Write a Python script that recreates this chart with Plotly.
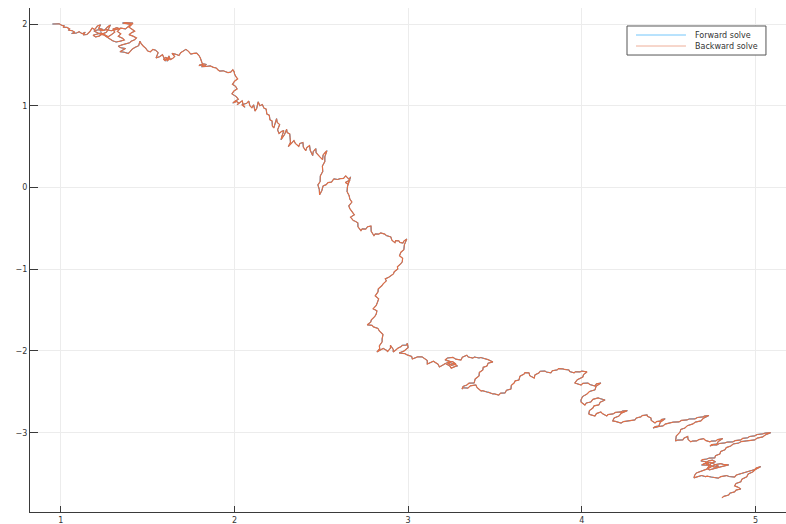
import plotly.graph_objects as go

# Solution path of the 2-D SDE (u1, u2), listed piece by piece along the trajectory
path_head = [
    (0.951, 2.000), (0.975, 1.998), (0.990, 2.003), (1.004, 1.985), (1.020, 1.978), (1.012, 1.962),
    (1.035, 1.958), (1.050, 1.940), (1.043, 1.925), (1.066, 1.918), (1.080, 1.898), (1.062, 1.884),
    (1.090, 1.890), (1.105, 1.905), (1.122, 1.882), (1.140, 1.900), (1.128, 1.868), (1.150, 1.872),
    (1.166, 1.905), (1.180, 1.950), (1.195, 1.932), (1.210, 1.975), (1.228, 1.990), (1.218, 1.948),
    (1.240, 1.935), (1.225, 1.915), (1.252, 1.925), (1.268, 1.965), (1.285, 1.988), (1.275, 1.945),
    (1.262, 1.898), (1.240, 1.880), (1.220, 1.852), (1.200, 1.842), (1.185, 1.862), (1.205, 1.875),
    (1.232, 1.892), (1.250, 1.870), (1.272, 1.845), (1.290, 1.868), (1.310, 1.900), (1.300, 1.938),
    (1.322, 1.955), (1.340, 1.940), (1.325, 1.910), (1.345, 1.880), (1.330, 1.850), (1.355, 1.825),
    (1.365, 1.805), (1.342, 1.790), (1.318, 1.780), (1.298, 1.795), (1.278, 1.820), (1.260, 1.850),
    (1.245, 1.868), (1.225, 1.878), (1.205, 1.895), (1.190, 1.915), (1.215, 1.930), (1.238, 1.922),
    (1.262, 1.932), (1.290, 1.918), (1.315, 1.932), (1.345, 1.950), (1.372, 1.940), (1.390, 1.975),
    (1.402, 1.995), (1.378, 2.005), (1.355, 2.012), (1.372, 2.018), (1.398, 2.015), (1.415, 2.012),
    (1.405, 1.988), (1.392, 1.962), (1.410, 1.935), (1.425, 1.912), (1.408, 1.895), (1.392, 1.870),
    (1.415, 1.852), (1.435, 1.830), (1.425, 1.808), (1.405, 1.790), (1.395, 1.770), (1.372, 1.760),
    (1.352, 1.745), (1.330, 1.728), (1.345, 1.710), (1.372, 1.700), (1.355, 1.680), (1.340, 1.662),
    (1.365, 1.655), (1.388, 1.640), (1.398, 1.662), (1.412, 1.695), (1.428, 1.715), (1.448, 1.735),
    (1.455, 1.790), (1.462, 1.760), (1.475, 1.728), (1.488, 1.705), (1.500, 1.670), (1.515, 1.660),
    (1.530, 1.690), (1.545, 1.680), (1.560, 1.650), (1.552, 1.612), (1.548, 1.585), (1.568, 1.600),
    (1.585, 1.625), (1.595, 1.580), (1.602, 1.548), (1.590, 1.570), (1.615, 1.560), (1.600, 1.592),
    (1.625, 1.575), (1.612, 1.545), (1.622, 1.610), (1.630, 1.565),
    (1.645, 1.580), (1.655, 1.602), (1.640, 1.640), (1.662, 1.630), (1.680, 1.615), (1.690, 1.650),
    (1.705, 1.672), (1.720, 1.690), (1.735, 1.665), (1.748, 1.632), (1.765, 1.640), (1.782, 1.645),
    (1.795, 1.615), (1.803, 1.585), (1.812, 1.530), (1.818, 1.498), (1.800, 1.500), (1.795, 1.490),
    (1.822, 1.512), (1.838, 1.505), (1.825, 1.485), (1.810, 1.478), (1.835, 1.480), (1.860, 1.488),
    (1.878, 1.470), (1.895, 1.462), (1.905, 1.438), (1.915, 1.425), (1.935, 1.428), (1.950, 1.418),
    (1.962, 1.405), (1.978, 1.412), (1.990, 1.440), (1.998, 1.415), (2.000, 1.388),
]

path_descent = [
    (2.008, 1.355), (2.018, 1.330), (2.000, 1.300), (1.988, 1.262), (2.006, 1.238), (2.015, 1.205),
    (1.996, 1.180), (1.985, 1.145), (2.010, 1.112), (2.022, 1.078), (2.004, 1.058), (1.990, 1.035),
    (2.012, 1.052), (2.026, 1.030), (2.014, 1.012), (2.034, 1.040), (2.044, 1.060), (2.050, 1.008),
    (2.060, 0.982), (2.042, 1.012), (2.070, 1.030), (2.082, 1.058), (2.088, 1.002), (2.100, 0.975),
    (2.110, 1.012), (2.118, 0.935), (2.128, 0.970), (2.136, 1.048), (2.146, 1.000), (2.160, 1.015),
    (2.170, 0.968), (2.182, 0.960), (2.186, 0.898), (2.200, 0.885), (2.204, 0.828), (2.216, 0.815),
    (2.218, 0.752), (2.226, 0.728), (2.234, 0.800), (2.242, 0.842), (2.246, 0.795), (2.260, 0.770),
    (2.248, 0.705), (2.256, 0.660), (2.272, 0.688), (2.284, 0.695), (2.272, 0.622), (2.268, 0.585),
    (2.288, 0.648), (2.300, 0.712), (2.303, 0.672), (2.318, 0.655), (2.320, 0.610), (2.322, 0.552),
    (2.310, 0.500), (2.328, 0.545), (2.342, 0.575), (2.350, 0.540), (2.370, 0.502), (2.376, 0.538),
    (2.394, 0.550), (2.396, 0.495), (2.410, 0.450), (2.416, 0.488), (2.432, 0.512), (2.436, 0.455),
    (2.450, 0.390), (2.453, 0.438), (2.468, 0.475), (2.470, 0.425), (2.483, 0.388), (2.490, 0.378),
    (2.507, 0.340), (2.510, 0.398), (2.522, 0.428), (2.532, 0.450), (2.520, 0.376), (2.520, 0.318),
    (2.506, 0.262), (2.508, 0.196), (2.494, 0.142), (2.493, 0.072), (2.480, 0.032), (2.488, -0.022),
    (2.490, -0.090), (2.503, -0.036), (2.510, 0.020), (2.528, 0.035), (2.538, 0.060), (2.558, 0.066),
    (2.572, 0.106), (2.594, 0.098), (2.608, 0.108), (2.628, 0.112), (2.640, 0.142), (2.658, 0.104),
    (2.664, 0.090), (2.638, 0.062), (2.655, 0.040), (2.668, 0.130), (2.657, 0.070), (2.650, 0.005),
    (2.648, -0.050), (2.660, -0.100), (2.664, -0.142), (2.676, -0.178), (2.658, -0.225), (2.664, -0.258),
    (2.674, -0.288), (2.690, -0.335), (2.668, -0.362), (2.684, -0.405), (2.692, -0.410), (2.710, -0.432),
    (2.711, -0.482), (2.728, -0.528), (2.735, -0.505), (2.756, -0.508), (2.766, -0.480), (2.786, -0.472),
    (2.787, -0.535), (2.803, -0.590), (2.810, -0.568), (2.830, -0.570), (2.842, -0.556), (2.865, -0.570),
    (2.874, -0.588), (2.900, -0.604), (2.906, -0.645), (2.924, -0.676), (2.928, -0.650), (2.946, -0.652),
    (2.952, -0.672), (2.970, -0.680), (2.975, -0.655), (2.992, -0.630), (2.978, -0.702), (2.975, -0.762),
    (2.958, -0.792), (2.950, -0.835), (2.968, -0.866), (2.966, -0.910), (2.958, -0.932), (2.938, -0.970),
    (2.940, -0.998), (2.920, -1.030), (2.915, -1.058), (2.896, -1.092), (2.888, -1.098), (2.868, -1.118),
    (2.874, -1.142), (2.856, -1.178), (2.848, -1.202), (2.828, -1.240), (2.826, -1.278), (2.810, -1.325),
    (2.830, -1.362), (2.822, -1.410), (2.816, -1.442), (2.798, -1.485), (2.820, -1.508), (2.816, -1.548),
    (2.808, -1.578), (2.788, -1.620), (2.784, -1.648), (2.764, -1.680), (2.792, -1.686), (2.800, -1.705),
    (2.826, -1.724), (2.834, -1.755), (2.855, -1.798), (2.850, -1.852), (2.850, -1.888), (2.834, -1.938),
    (2.836, -1.972), (2.820, -2.012), (2.848, -1.985), (2.856, -1.968), (2.880, -1.998), (2.880, -2.012),
    (2.898, -1.965), (2.898, -1.930), (2.914, -1.980), (2.914, -2.012), (2.934, -1.980), (2.938, -1.968),
    (2.960, -1.945), (2.966, -1.930), (2.990, -1.928), (2.995, -1.906), (3.000, -1.958), (2.982, -1.998),
    (2.975, -2.002), (2.948, -2.024), (2.980, -2.032), (2.994, -2.048),
]

path_middle = [
    (3.020, -2.066), (3.024, -2.098), (3.048, -2.076), (3.054, -2.072), (3.080, -2.072), (3.088, -2.086),
    (3.110, -2.116), (3.110, -2.160), (3.138, -2.136), (3.145, -2.126), (3.172, -2.162), (3.180, -2.196),
    (3.205, -2.166), (3.214, -2.152), (3.240, -2.184), (3.248, -2.210), (3.275, -2.186), (3.284, -2.184),
    (3.262, -2.150), (3.240, -2.165), (3.222, -2.140), (3.256, -2.130), (3.275, -2.160), (3.250, -2.175),
    (3.230, -2.150), (3.248, -2.134), (3.220, -2.112), (3.212, -2.110), (3.226, -2.086), (3.258, -2.078),
    (3.274, -2.100), (3.304, -2.110), (3.312, -2.076), (3.338, -2.052), (3.346, -2.074), (3.372, -2.086),
    (3.382, -2.074), (3.408, -2.086), (3.418, -2.080), (3.448, -2.098), (3.460, -2.106), (3.488, -2.134),
    (3.460, -2.150), (3.454, -2.184), (3.432, -2.200), (3.430, -2.232), (3.410, -2.262), (3.408, -2.306),
    (3.386, -2.342), (3.380, -2.392), (3.350, -2.394), (3.338, -2.416), (3.316, -2.434), (3.310, -2.466),
    (3.318, -2.450), (3.344, -2.454), (3.358, -2.426), (3.390, -2.416), (3.396, -2.446), (3.420, -2.490),
    (3.428, -2.486), (3.454, -2.502), (3.464, -2.506), (3.488, -2.526), (3.496, -2.524), (3.522, -2.540),
    (3.532, -2.516), (3.558, -2.514), (3.566, -2.481), (3.592, -2.465), (3.594, -2.421), (3.610, -2.392),
    (3.616, -2.366), (3.638, -2.355), (3.644, -2.308), (3.668, -2.282), (3.672, -2.266), (3.696, -2.268),
    (3.700, -2.302), (3.726, -2.331), (3.730, -2.292), (3.754, -2.268), (3.760, -2.248), (3.788, -2.245),
    (3.796, -2.258), (3.822, -2.268), (3.830, -2.242), (3.858, -2.232), (3.866, -2.216), (3.892, -2.220),
    (3.900, -2.226), (3.926, -2.232), (3.930, -2.252), (3.956, -2.268), (3.962, -2.254), (3.990, -2.256),
    (4.000, -2.246), (4.030, -2.256), (4.010, -2.288), (4.006, -2.318), (3.974, -2.352), (3.960, -2.392),
    (3.968, -2.398), (3.996, -2.416), (4.006, -2.396), (4.036, -2.392), (4.046, -2.410), (4.076, -2.428),
    (4.084, -2.402), (4.110, -2.392), (4.082, -2.432), (4.076, -2.476), (4.044, -2.496), (4.030, -2.526),
    (4.004, -2.558), (3.995, -2.600), (3.996, -2.626), (4.018, -2.662), (4.026, -2.636), (4.052, -2.624),
    (4.064, -2.592), (4.094, -2.574), (4.104, -2.582), (4.134, -2.600), (4.106, -2.626), (4.098, -2.660),
    (4.070, -2.672), (4.064, -2.698), (4.044, -2.728), (4.040, -2.770), (4.048, -2.778), (4.076, -2.796),
    (4.084, -2.766), (4.110, -2.746), (4.118, -2.766), (4.144, -2.796), (4.150, -2.778), (4.180, -2.770),
    (4.194, -2.752), (4.226, -2.746), (4.234, -2.734), (4.262, -2.730), (4.228, -2.760), (4.214, -2.796),
    (4.186, -2.820), (4.178, -2.856), (4.194, -2.862), (4.226, -2.882), (4.240, -2.864), (4.272, -2.856),
    (4.280, -2.845), (4.306, -2.844), (4.314, -2.820), (4.340, -2.806), (4.348, -2.790), (4.376, -2.782),
    (4.378, -2.800), (4.398, -2.818), (4.400, -2.850), (4.422, -2.882), (4.430, -2.864), (4.456, -2.856),
    (4.458, -2.838), (4.480, -2.830), (4.452, -2.872), (4.444, -2.918), (4.424, -2.924), (4.410, -2.942),
    (4.444, -2.924), (4.468, -2.916), (4.480, -2.894), (4.514, -2.880), (4.526, -2.870), (4.560, -2.868),
    (4.574, -2.850), (4.606, -2.844), (4.618, -2.832), (4.652, -2.830), (4.666, -2.814), (4.698, -2.806),
    (4.706, -2.796), (4.732, -2.790),
]

path_tail = [
    (4.700, -2.824), (4.686, -2.856), (4.654, -2.870), (4.640, -2.892), (4.608, -2.914), (4.594, -2.942),
    (4.570, -2.960), (4.566, -2.992), (4.544, -3.040), (4.540, -3.102), (4.552, -3.090), (4.582, -3.088),
    (4.588, -3.066), (4.610, -3.046), (4.612, -3.082), (4.628, -3.112), (4.636, -3.102), (4.662, -3.100),
    (4.674, -3.084), (4.702, -3.072), (4.712, -3.094), (4.738, -3.112), (4.746, -3.102), (4.772, -3.100),
    (4.782, -3.084), (4.812, -3.072), (4.786, -3.108), (4.778, -3.138), (4.748, -3.146), (4.738, -3.162),
    (4.758, -3.150), (4.778, -3.150), (4.792, -3.132), (4.824, -3.125), (4.838, -3.114), (4.870, -3.112),
    (4.884, -3.096), (4.916, -3.088), (4.926, -3.070), (4.956, -3.062), (4.966, -3.046), (4.996, -3.038),
    (5.010, -3.022), (5.042, -3.014), (5.056, -3.004), (5.088, -3.000), (5.056, -3.028), (5.042, -3.052),
    (5.010, -3.066), (4.996, -3.088), (4.964, -3.090), (4.950, -3.100), (4.918, -3.108), (4.904, -3.126),
    (4.872, -3.138), (4.858, -3.162), (4.832, -3.182), (4.824, -3.210), (4.800, -3.230), (4.795, -3.260),
    (4.770, -3.280), (4.766, -3.308), (4.734, -3.310), (4.720, -3.322), (4.694, -3.330), (4.686, -3.346),
    (4.708, -3.352), (4.730, -3.366), (4.705, -3.378), (4.690, -3.395), (4.725, -3.396), (4.752, -3.408),
    (4.770, -3.390), (4.800, -3.378), (4.815, -3.388), (4.846, -3.394), (4.810, -3.412), (4.780, -3.428),
    (4.758, -3.440), (4.735, -3.455), (4.722, -3.438), (4.745, -3.372), (4.770, -3.355), (4.752, -3.335),
    (4.730, -3.345), (4.712, -3.370), (4.738, -3.400), (4.762, -3.420), (4.788, -3.410), (4.760, -3.380),
    (4.740, -3.362), (4.718, -3.385), (4.745, -3.418), (4.720, -3.445), (4.700, -3.462), (4.680, -3.470),
    (4.660, -3.492), (4.650, -3.520), (4.646, -3.552), (4.668, -3.538), (4.690, -3.524), (4.712, -3.538),
    (4.722, -3.532), (4.745, -3.542), (4.764, -3.548), (4.786, -3.556), (4.800, -3.538), (4.834, -3.524),
    (4.848, -3.536), (4.880, -3.542), (4.890, -3.518), (4.916, -3.500), (4.928, -3.488), (4.956, -3.476),
    (4.966, -3.462), (4.996, -3.450), (5.004, -3.432), (5.030, -3.415), (5.000, -3.450), (4.984, -3.480),
    (4.958, -3.505), (4.950, -3.540), (4.922, -3.568), (4.916, -3.600), (4.888, -3.622), (4.880, -3.650),
    (4.898, -3.665), (4.916, -3.688), (4.888, -3.702), (4.880, -3.724), (4.852, -3.740), (4.846, -3.762),
    (4.818, -3.778), (4.807, -3.797),
]

path = path_head + path_descent + path_middle + path_tail
u1 = [p[0] for p in path]
u2 = [p[1] for p in path]

series_names = ["Forward solve", "Backward solve"]
series_colors = ["#009AF9", "#E26F46"]
series_widths = [1.0, 1.2]

x_ticks = [1, 2, 3, 4, 5]
y_ticks = [-3, -2, -1, 0, 1, 2]

fig = go.Figure()
for name, color, w in zip(series_names, series_colors, series_widths):
    fig.add_trace(go.Scatter(
        x=u1, y=u2, mode="lines", name=name,
        line=dict(color=color, width=w),
    ))

axis_common = dict(
    showgrid=True, gridcolor="#ececec", gridwidth=1,
    zeroline=False, showline=True, linecolor="#3a3a3a", linewidth=1,
    ticks="inside", tickcolor="#3a3a3a",
    tickfont=dict(family="DejaVu Sans", size=8, color="#333333"),
)

# Compact legend box drawn in paper coordinates
legend_box = dict(x0=0.7897, x1=0.9735, y0=0.9067, y1=0.9643)
legend_rows_y = [0.9464, 0.9246]
legend_line_x = (0.8016, 0.8677)
legend_text_x = 0.877

shapes = [dict(type="rect", xref="paper", yref="paper", **legend_box,
               line=dict(color="#555555", width=1), fillcolor="white", layer="above")]
annotations = []
for name, color, ly in zip(series_names, series_colors, legend_rows_y):
    shapes.append(dict(type="line", xref="paper", yref="paper",
                       x0=legend_line_x[0], x1=legend_line_x[1], y0=ly, y1=ly,
                       line=dict(color=color, width=1), opacity=0.55, layer="above"))
    annotations.append(dict(text=name, xref="paper", yref="paper", x=legend_text_x, y=ly,
                            xanchor="left", yanchor="middle", showarrow=False,
                            font=dict(family="DejaVu Sans", size=8, color="#333333")))

fig.update_layout(
    width=786, height=524,
    margin=dict(l=30, r=0, t=8, b=12),
    paper_bgcolor="white", plot_bgcolor="white",
    xaxis=dict(range=[0.822, 5.176], tickvals=x_ticks, ticklen=6, **axis_common),
    yaxis=dict(range=[-3.97, 2.196], tickvals=y_ticks, ticklen=8, **axis_common),
    shapes=shapes,
    annotations=annotations,
    showlegend=False,
)

fig.write_html("out.html")
